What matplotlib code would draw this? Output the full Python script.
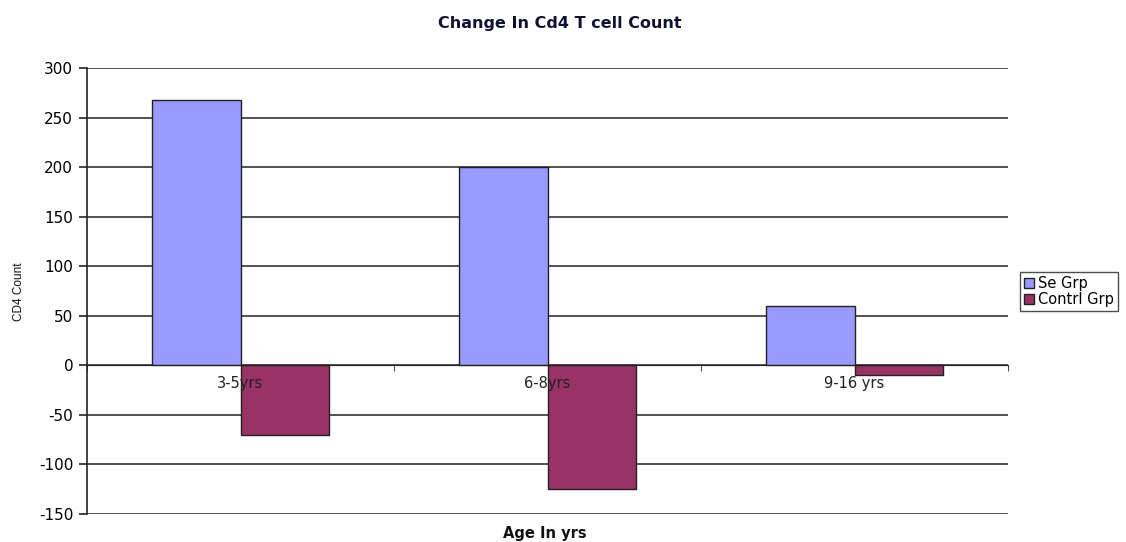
import numpy as np
import matplotlib
matplotlib.use("Agg")
import matplotlib.pyplot as plt

categories = ["3-5yrs", "6-8yrs", "9-16 yrs"]
se_grp = [268, 200, 60]
contrl_grp = [-70, -125, -10]
series_names = ["Se Grp", "Contrl Grp"]
y_ticks = [-150, -100, -50, 0, 50, 100, 150, 200, 250, 300]

plt.rcParams["font.family"] = ["DejaVu Sans"]
plt.rcParams["axes.unicode_minus"] = False

fig = plt.figure(figsize=(11.26, 5.42), dpi=100)
ax = fig.add_axes([0.0773, 0.0517, 0.8179, 0.8228])

x = np.arange(len(categories))
w = 0.287
ax.bar(x - w / 2, se_grp, width=w, color="#9999FF", edgecolor="#222222",
       linewidth=1.0, label=series_names[0], zorder=2)
ax.bar(x + w / 2, contrl_grp, width=w, color="#993366", edgecolor="#222222",
       linewidth=1.0, label=series_names[1], zorder=2)

ax.set_xlim(-0.5, len(categories) - 0.5)
ax.set_ylim(-150, 300)
ax.set_yticks(y_ticks)
ax.yaxis.grid(True, color="#222222", linewidth=1.1, zorder=1)
ax.set_axisbelow(True)

for s in ["top", "right"]:
    ax.spines[s].set_visible(False)
ax.spines["bottom"].set_position(("data", 0))
ax.spines["bottom"].set_color("#222222")
ax.spines["left"].set_color("#222222")
ax.spines["left"].set_linewidth(1.2)

# category names sit just under the zero line, drawn above the bars
ax.set_xticks(x)
ax.set_xticklabels([])
ax.set_xticks(np.arange(len(categories) + 1) - 0.5, minor=True)
ax.tick_params(axis="x", which="major", length=0)
ax.tick_params(axis="x", which="minor", length=4, direction="out", color="#222222")
for xi, name in zip(x, categories):
    ax.annotate(name, xy=(xi, 0), xytext=(0, -18), textcoords="offset pixels",
                ha="center", va="center", fontsize=10.5, color="#222222",
                zorder=6)

ax.tick_params(axis="y", length=6, width=1.2, color="#222222", labelsize=11, pad=4)

fig.text(0.497, 0.957, "Change In Cd4 T cell Count", ha="center", va="center",
         fontsize=11.5, fontweight="bold", color="#111133")
fig.text(0.484, 0.016, "Age In yrs", ha="center", va="center",
         fontsize=10.5, fontweight="bold", color="#111111")
fig.text(0.017, 0.461, "CD4 Count", ha="center", va="center", rotation=90,
         fontsize=8.5, color="#111111", family="Liberation Sans")

leg = fig.legend(loc="upper left", bbox_to_anchor=(0.906, 0.498), fontsize=10.5,
                 frameon=True, fancybox=False, edgecolor="#222222",
                 handlelength=0.7, handleheight=0.7, handletextpad=0.3,
                 borderpad=0.25, labelspacing=0.1, borderaxespad=0)
leg.get_frame().set_linewidth(1.0)

fig.savefig("out.png", dpi=100)
